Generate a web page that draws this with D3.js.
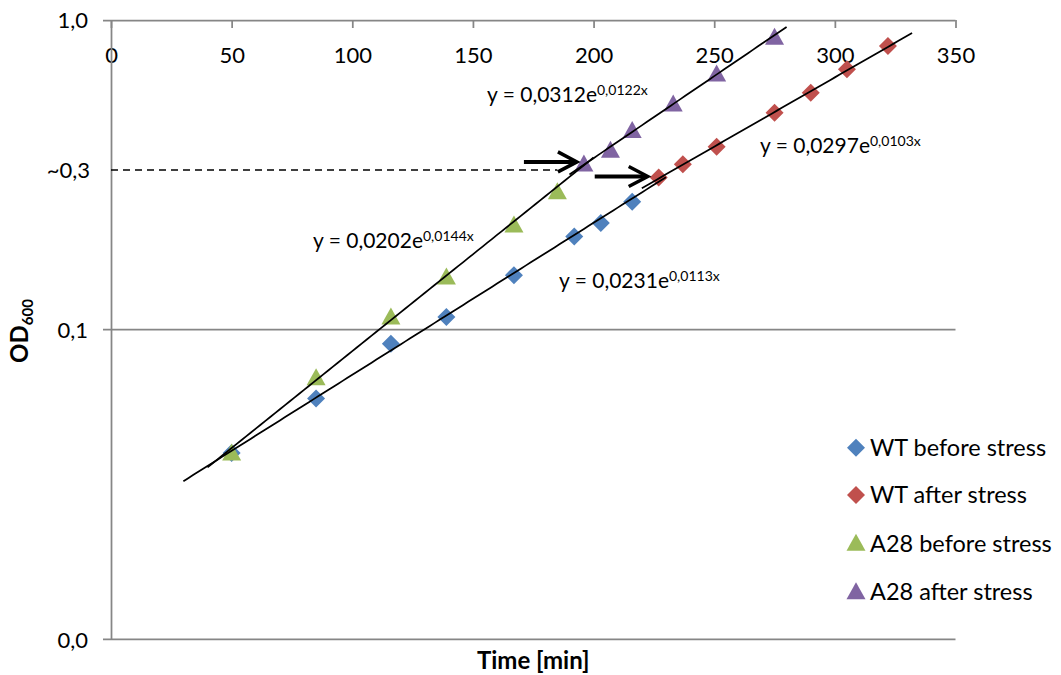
<!DOCTYPE html>
<html>
<head>
<meta charset="utf-8">
<script src="https://cdn.jsdelivr.net/npm/d3@7"></script>
<style>
  html, body { margin: 0; padding: 0; background: #ffffff; }
  svg { display: block; font-family: Lato, "Open Sans", sans-serif; }
</style>
</head>
<body>
<svg id="chart" width="1061" height="675"></svg>
<script>
// ---- Growth data: OD600 vs. time (min) ----
const seriesNames = ["WT before stress", "WT after stress", "A28 before stress", "A28 after stress"];

const timeWTBefore = [50, 85, 116, 139, 167, 192, 203, 216];
const odWTBefore   = [0.040, 0.060, 0.090, 0.110, 0.150, 0.200, 0.221, 0.259];

const timeWTAfter  = [227, 237, 251, 275, 290, 305, 322];
const odWTAfter    = [0.310, 0.342, 0.390, 0.502, 0.582, 0.693, 0.824];

const timeA28Before = [50, 85, 116, 139, 167, 185];
const odA28Before   = [0.040, 0.070, 0.110, 0.148, 0.218, 0.279];

const timeA28After = [196, 207, 216, 233, 251, 275];
const odA28After   = [0.343, 0.380, 0.440, 0.536, 0.669, 0.879];

// Exponential fits y = a * e^(b x) and the time span each trendline covers
const fitA = [0.0231, 0.0297, 0.0202, 0.0312];
const fitB = [0.0113, 0.0103, 0.0144, 0.0122];
const trendFrom = [30, 220, 40, 190];
const trendTo   = [230, 332, 200, 280];

// Axis ticks
const xTickValues = [0, 50, 100, 150, 200, 250, 300, 350];
const yTickValues = [0.01, 0.1, 1];
const yTickLabels = ["0,0", "0,1", "1,0"];

// Reference OD for the stress point and the time the guide line reaches
const cutOD = 0.328;
const cutLabel = "~0,3";
const cutTimeEnd = 185;

// ---- Layout ----
const W = 1061, H = 675;
const plot = { left: 111, right: 955.5, top: 20, bottom: 639.4 };
const colors = ["#4F81BD", "#C0504D", "#9BBB59", "#8064A2"];
const shapes = ["diamond", "diamond", "triangle", "triangle"];
const axisGrey = "#868686";
const eqPos = [[559, 288], [760, 153], [313, 248], [487, 102]];
const arrowOffsets = [[-7, -2], [-11, -1]];
const arrowLength = 53;

const svg = d3.select("#chart");

const x = d3.scaleLinear().domain([0, 350]).range([plot.left, plot.right]);
const y = d3.scaleLog().domain([0.01, 1]).range([plot.bottom, plot.top]);

const series = [
  { t: timeWTBefore, v: odWTBefore },
  { t: timeWTAfter, v: odWTAfter },
  { t: timeA28Before, v: odA28Before },
  { t: timeA28After, v: odA28After }
].map((s, i) => ({
  name: seriesNames[i],
  color: colors[i],
  shape: shapes[i],
  points: s.t.map((t, j) => ({ t, v: s.v[j] })),
  a: fitA[i], b: fitB[i], from: trendFrom[i], to: trendTo[i]
}));

function markerPath(shape) {
  if (shape === "diamond") return "M0,-9L9,0L0,9L-9,0Z";
  return "M0,-9.5L9.5,7.5L-9.5,7.5Z";
}

// Gridline at 0.1 and bottom axis line at 0.01
svg.append("g")
  .selectAll("line")
  .data([0.1, 0.01])
  .join("line")
  .attr("x1", plot.left - 8)
  .attr("x2", plot.right)
  .attr("y1", d => y(d))
  .attr("y2", d => y(d))
  .attr("stroke", axisGrey)
  .attr("stroke-width", 1.75);

// Time axis along the top edge, labels beneath the line
const xAxis = svg.append("g")
  .attr("transform", `translate(0,${plot.top})`)
  .call(d3.axisBottom(x).tickValues(xTickValues).tickSize(8).tickPadding(19).tickSizeOuter(0).tickFormat(d3.format("d")));
xAxis.select(".domain").attr("stroke", axisGrey).attr("stroke-width", 1.75)
  .attr("d", `M${plot.left - 8},0.5H${plot.right}`);
xAxis.selectAll(".tick line").attr("stroke", axisGrey).attr("stroke-width", 1.75);
xAxis.selectAll(".tick text").attr("font-size", 22).attr("fill", "#000").attr("font-family", "Lato, 'Open Sans', sans-serif");

// OD axis (log)
const yAxis = svg.append("g")
  .attr("transform", `translate(${plot.left},0)`)
  .call(d3.axisLeft(y).tickValues(yTickValues).tickSize(0).tickPadding(23)
    .tickFormat((d, i) => yTickLabels[i]));
yAxis.select(".domain").attr("stroke", axisGrey).attr("stroke-width", 1.75);
yAxis.selectAll(".tick text").attr("font-size", 22).attr("fill", "#000").attr("dy", "0.36em")
  .attr("font-family", "Lato, 'Open Sans', sans-serif");

// Guide line for the stress point
svg.append("line")
  .attr("x1", plot.left).attr("x2", x(cutTimeEnd))
  .attr("y1", y(cutOD)).attr("y2", y(cutOD))
  .attr("stroke", "#000").attr("stroke-width", 1.5)
  .attr("stroke-dasharray", "7,5");
svg.append("text")
  .attr("x", plot.left - 21).attr("y", y(cutOD)).attr("dy", "0.36em")
  .attr("text-anchor", "end").attr("font-size", 22)
  .text(cutLabel);

// Markers
series.forEach(s => {
  svg.append("g")
    .selectAll("path")
    .data(s.points)
    .join("path")
    .attr("d", markerPath(s.shape))
    .attr("transform", d => `translate(${x(d.t)},${y(d.v)})`)
    .attr("fill", s.color);
});

// Exponential trendlines
const trendLine = d3.line().x(d => x(d.t)).y(d => y(d.v));
series.forEach(s => {
  const pts = d3.range(s.from, s.to, 2).concat([s.to]).map(t => ({ t, v: s.a * Math.exp(s.b * t) }));
  svg.append("path")
    .attr("d", trendLine(pts))
    .attr("fill", "none")
    .attr("stroke", "#000")
    .attr("stroke-width", 1.75);
});

// Fit equations
const fmt4 = v => d3.format(".4f")(v).replace(".", ",");
series.forEach((s, i) => {
  const t = svg.append("text")
    .attr("x", eqPos[i][0]).attr("y", eqPos[i][1])
    .attr("font-size", 21).attr("fill", "#000");
  t.append("tspan").text(`y = ${fmt4(s.a)}e`);
  t.append("tspan").attr("font-size", 14).attr("dy", -7).text(`${fmt4(s.b)}x`);
});

// Arrows pointing at the first point after stress
[series[3].points[0], series[1].points[0]].forEach((p, i) => {
  const tipX = x(p.t) + arrowOffsets[i][0];
  const tipY = y(p.v) + arrowOffsets[i][1];
  const g = svg.append("g").attr("stroke", "#000").attr("fill", "none")
    .attr("stroke-width", 4).attr("stroke-linecap", "butt");
  g.append("line").attr("x1", tipX - arrowLength).attr("x2", tipX - 2)
    .attr("y1", tipY).attr("y2", tipY);
  g.append("path").attr("stroke-width", 3.5).attr("stroke-linejoin", "miter")
    .attr("d", `M${tipX - 19},${tipY - 10}L${tipX},${tipY}L${tipX - 19},${tipY + 10}`);
});

// Axis titles
svg.append("text")
  .attr("x", (plot.left + plot.right) / 2).attr("y", 669)
  .attr("text-anchor", "middle").attr("font-size", 24).attr("font-weight", "bold")
  .text("Time [min]");

const yTitle = svg.append("text")
  .attr("transform", "translate(28,331) rotate(-90)")
  .attr("text-anchor", "middle").attr("font-size", 24).attr("font-weight", "bold");
yTitle.append("tspan").text("OD");
yTitle.append("tspan").attr("font-size", 15).attr("dy", 5).text("600");

// Legend
const legend = svg.append("g");
const legendRows = [447.7, 495, 543.3, 591.7];
series.forEach((s, i) => {
  legend.append("path")
    .attr("d", markerPath(s.shape))
    .attr("transform", `translate(856,${legendRows[i]})`)
    .attr("fill", s.color);
  legend.append("text")
    .attr("x", 870).attr("y", legendRows[i]).attr("dy", "0.36em")
    .attr("font-size", 23.5).text(s.name);
});
</script>
</body>
</html>
